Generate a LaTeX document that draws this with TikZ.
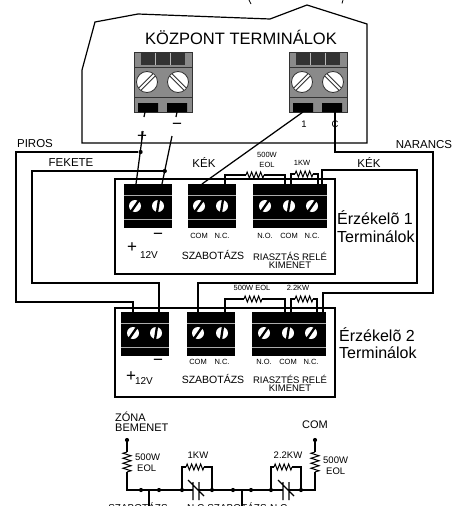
\documentclass[tikz,border=0pt]{standalone}
\usepackage{fontspec}
\setmainfont{Liberation Sans}
\definecolor{gfill}{HTML}{8A8A8A}
\definecolor{gdark}{HTML}{333333}
\newcommand\gblock[2]{%
 \begin{scope}[shift={(#1,#2)}]
 \filldraw[fill=gfill, draw=gdark, line width=0.8] (0,0) rectangle (58,60);
 \fill[gdark] (7,1) rectangle (51,13);
 \draw[gfill!60!white, line width=0.8] (21,1)--(21,13) (36,1)--(36,13);
 \draw[gdark, line width=0.8] (0,15)--(58,15) (0,45)--(58,45);
 \filldraw[fill=white, draw=gdark, line width=0.8] (13,30) circle[radius=10.5] (44,30) circle[radius=10.5];
 \draw[gdark, line width=4] (6,37)--(20,23) (37,23)--(51,37);
 \draw[white, line width=2] (6,37)--(20,23) (37,23)--(51,37);
 \fill[black] (4,51) rectangle (24,60) (33,51) rectangle (53,60);
 \end{scope}}
\newcommand\bblock[3]{\begin{scope}[shift={(#1,#2)}]\fill[black] (0,0) rectangle (#3,44); \draw[gray!65, line width=0.9] (0,11)--(#3,11) (0,35)--(#3,35);\end{scope}}
\newcommand\scrA[2]{\begin{scope}[shift={(#1,#2)}]\fill[white] (0,0) circle[radius=6]; \draw[line width=2.3] (-4,5.8)--(4,-5.8);\end{scope}}
\newcommand\scrB[2]{\begin{scope}[shift={(#1,#2)}]\fill[white] (0,0) circle[radius=6]; \draw[line width=2.3] (-1,6.5)--(1,-6.5);\end{scope}}
\tikzset{
 wire/.style={line width=1.25pt, line join=miter},
 resh/.pic={\draw[line width=1pt] (0,0) -- (1.125,-3) -- (3.375,3) -- (5.625,-3) -- (7.875,3) -- (10.125,-3) -- (12.375,3) -- (14.625,-3) -- (16.875,3) -- (18,0);},
 resv/.pic={\draw[line width=1pt] (0,0) -- (-4,1.25) -- (4,3.75) -- (-4,6.25) -- (4,8.75) -- (-4,11.25) -- (4,13.75) -- (-4,16.25) -- (4,18.75) -- (0,20);},
 dot/.style={circle, fill=black, inner sep=0, minimum size=4.2pt},
 t/.style={inner sep=0, font=\fontsize{#1}{#1}\selectfont},
 t/.default=10
}
\begin{document}
\begin{tikzpicture}[x=1pt,y=-1pt]
\useasboundingbox (0,0) rectangle (469,506);
% cut-off marks at the top edge
\draw[line width=0.8pt] (249,0) -- (251,4);
\draw[line width=0.8pt] (343,0) -- (342,3.5);
% central panel
\draw[line width=1.2pt] (82,143) -- (82,70) -- (95,22) -- (138,14) -- (270,19) -- (307,5) -- (367,24) -- (367,143) -- cycle;
\node[t=16.5] (title) at (241,37) {KÖZPONT TERMINÁLOK};
\gblock{134}{52}
\gblock{289}{52}
\node[t=9.5] (one) at (304,124) {1};
\node[t=9.5] (cee) at (335,124) {C};
\node[t=17] (cminus) at (177,126) {−};
\node[t=17] (cplus) at (142,137) {+};
% sensor boxes
\draw[line width=1.2pt] (115,179) rectangle (335,274);
\draw[line width=1.2pt] (115,308) rectangle (335,397);
% sensor 1 blocks
\bblock{124}{184}{48}
\bblock{188}{184}{48}
\bblock{253}{184}{74}
\scrA{135}{206}\scrB{158}{206}
\scrA{199}{206}\scrB{222}{206}
\scrA{265}{206}\scrB{289}{206}\scrA{312}{206}
% sensor 2 blocks
\bblock{121}{312}{48}
\bblock{187}{312}{48}
\bblock{252}{312}{74}
\scrA{133}{333}\scrB{156}{333}
\scrA{198}{333}\scrB{222}{333}
\scrA{264}{333}\scrB{288}{333}\scrA{311}{333}
% coordinates
\coordinate (cp) at (145,112);
\coordinate (cm) at (177,112);
\coordinate (c1) at (303,112);
\coordinate (cc) at (335,112);
\coordinate (s1p) at (136,184);
\coordinate (s1m) at (162,184);
\coordinate (s1tc) at (202,184);
\coordinate (s1tn) at (225,184);
\coordinate (s1ra) at (285,184);
\coordinate (s1rb) at (291,184);
\coordinate (s1rc) at (318,184);
\coordinate (s1rd) at (322,184);
\coordinate (s2p) at (133,312);
\coordinate (s2m) at (159,312);
\coordinate (s2tc) at (198,312);
\coordinate (s2tn) at (225,312);
\coordinate (s2ra) at (285,312);
\coordinate (s2rb) at (291,312);
\coordinate (s2rc) at (317,312);
\coordinate (s2rd) at (323,312);
% wires
\draw[wire] (cp) -- ++(-1,5);
\draw[wire] (cm) -- ++(-1,5);
\draw[wire] (143,131) -- (s1p);
\draw[wire] (172,136) -- (s1m);
\node[dot] (jp) at (140.6,152) {};
\node[dot] (jm) at (164.8,171) {};
\draw[wire] (jp) -- (16,152) -- (16,302) -| (s2p);
\draw[wire] (jm) -- (32,171) -- (32,283) -| (s2m);
\draw[wire] (c1) -- (s1tc);
\draw[wire] (s1tn) |- (246,175);
\pic at (246,175) {resh};
\draw[wire] (264,175) -| (s1ra);
\draw[wire] (s1rb) |- (295,174);
\pic at (295,174) {resh};
\draw[wire] (313,174) -| (s1rc);
\draw[wire] (s1rd) |- (417,170) |- (198,283) -- (s2tc);
\draw[wire] (cc) |- (433,152) |- (323,293) -- (s2rd);
\draw[wire] (s2tn) |- (244,299);
\pic at (244,299) {resh};
\draw[wire] (262,299) -| (s2ra);
\draw[wire] (s2rb) |- (295,299);
\pic at (295,299) {resh};
\draw[wire] (313,299) -| (s2rc);
% wire labels
\node[t=11.5] (piros) at (35,144) {PIROS};
\node[t=11.5] (fekete) at (71,163) {FEKETE};
\node[t=11.5] (kek1) at (204,163) {KÉK};
\node[t=11.5] (narancs) at (424,145) {NARANCS};
\node[t=11.5] (kek2) at (369,163) {KÉK};
\node[t=7.5] (r1a) at (267,155) {500W};
\node[t=7.5] (r1b) at (267,165) {EOL};
\node[t=7.5] (r1c) at (302,163) {1KW};
\node[t=7.5] (r2a) at (252,288) {500W EOL};
\node[t=7.5] (r2b) at (298,288) {2.2KW};
% sensor 1 labels
\node[t=7.5] (l1) at (199,236) {COM};
\node[t=7.5] (l2) at (222,236) {N.C.};
\node[t=7.5] (l3) at (265,236) {N.O.};
\node[t=7.5] (l4) at (289,236) {COM};
\node[t=7.5] (l5) at (312,236) {N.C.};
\node[t=17] (m1) at (158,236) {−};
\node[t=17] (p1) at (132,248) {+};
\node[t=10] (v1) at (149,255) {12V};
\node[t=10.5] (sz1) at (213,255) {SZABOTÁZS};
\node[t=9.5] (ri1) at (290,256) {RIASZTÁS RELÉ};
\node[t=9.5] (ki1) at (290,265.5) {KIMENET};
\node[t=16, anchor=west] (e1) at (337,218) {Érzékelõ 1};
\node[t=16, anchor=west] (e1b) at (337,237) {Terminálok};
% sensor 2 labels
\node[t=7.5] (k1) at (198,362) {COM};
\node[t=7.5] (k2) at (222,362) {N.C.};
\node[t=7.5] (k3) at (264,362) {N.O.};
\node[t=7.5] (k4) at (288,362) {COM};
\node[t=7.5] (k5) at (311,362) {N.C.};
\node[t=17] (m2) at (158,362) {−};
\node[t=17] (p2) at (131,377) {+};
\node[t=10] (v2) at (144,381) {12V};
\node[t=10.5] (sz2) at (213,379) {SZABOTÁZS};
\node[t=9.5] (ri2) at (290,379) {RIASZTÉS RELÉ};
\node[t=9.5] (ki2) at (290,388.5) {KIMENET};
\node[t=16, anchor=west] (e2) at (339,335) {Érzékelõ 2};
\node[t=16, anchor=west] (e2b) at (339,353) {Terminálok};
% bottom schematic
\node[t=11, anchor=west] (zona) at (115,417) {ZÓNA};
\node[t=11, anchor=west] (bem) at (115,428) {BEMENET};
\node[t=11] (com) at (315,425) {COM};
\node[dot] (zl) at (127,440) {};
\node[dot] (zr) at (315,440) {};
\draw[wire] (zl) -- (127,452);
\pic at (127,452) {resv};
\draw[wire] (127,472) -- (127,490) -- (193,490);
\draw[wire] (199,490) -- (283,490);
\draw[wire] (289,490) -- (315,490) -- (315,472);
\pic at (315,452) {resv};
\draw[wire] (zr) -- (315,452);
\node[t=9.5, anchor=west] (b1) at (135,457) {500W};
\node[t=9.5, anchor=west] (b2) at (137,468) {EOL};
\node[t=9.5, anchor=west] (b3) at (323,460) {500W};
\node[t=9.5, anchor=west] (b4) at (326,471) {EOL};
\draw[wire] (182,490) |- (186,467);
\pic at (186,467) {resh};
\draw[wire] (204,467) -| (212,490);
\draw[wire] (271,490) |- (274,467);
\pic at (274,467) {resh};
\draw[wire] (292,467) -| (301,490);
\node[t=9.5] (b5) at (198,455) {1KW};
\node[t=9.5] (b6) at (288,455) {2.2KW};
\draw[wire] (193,482) -- (193,500) (199,482) -- (199,500) (188,480) -- (204,496);
\draw[wire] (283,482) -- (283,500) (289,482) -- (289,500) (278,480) -- (294,496);
\foreach \xx/\nn in {141/a,159/b,182/c,212/d,233/e,251/f,271/g,301/h} \node[dot] (bd\nn) at (\xx,490) {};
\draw[wire] (bdb) ++(-10,0) -- ++(0,16);
\draw[wire] (bde) ++(9,0) -- ++(0,16);
\node[t=10, anchor=base] (bt1) at (138,511) {SZABOTÁZS};
\node[t=10, anchor=base] (bt2) at (197,511) {N.C.};
\node[t=10, anchor=base] (bt3) at (237,511) {SZABOTÁZS};
\node[t=10, anchor=base] (bt4) at (280,511) {N.C.};
\end{tikzpicture}
\end{document}
